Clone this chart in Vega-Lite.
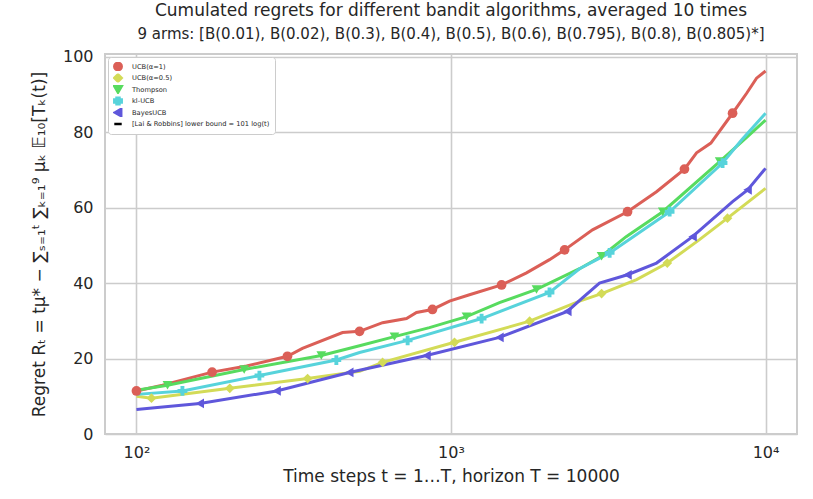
{
  "$schema": "https://vega.github.io/schema/vega-lite/v6.json",
  "width": 692,
  "height": 380,
  "autosize": {"type": "none"},
  "padding": {"left": 105, "top": 54, "right": 16, "bottom": 65},
  "background": "white",
  "config": {
    "font": "DejaVu Sans",
    "view": {"stroke": "#cccccc", "strokeWidth": 2},
    "axis": {
      "domain": false,
      "ticks": false,
      "gridColor": "#cccccc",
      "gridWidth": 1.6,
      "labelFontSize": 16,
      "labelColor": "#262626",
      "titleFontSize": 17,
      "titleFontWeight": "normal",
      "titleColor": "#262626"
    }
  },
  "title": {
    "text": "Cumulated regrets for different bandit algorithms, averaged 10 times",
    "subtitle": "9 arms: [B(0.01), B(0.02), B(0.3), B(0.4), B(0.5), B(0.6), B(0.795), B(0.8), B(0.805)*]",
    "fontSize": 17,
    "subtitleFontSize": 15,
    "fontWeight": "normal",
    "color": "#262626",
    "subtitleColor": "#262626",
    "anchor": "middle",
    "offset": 6,
    "subtitlePadding": 7
  },
  "data": {
    "values": [
      {"a": "UCB(α=1)", "t": 100, "r": 11.4, "m": 1},
      {"a": "UCB(α=1)", "t": 121, "r": 12.9, "m": 0},
      {"a": "UCB(α=1)", "t": 174, "r": 16.4, "m": 1},
      {"a": "UCB(α=1)", "t": 224, "r": 18.0, "m": 0},
      {"a": "UCB(α=1)", "t": 302, "r": 20.6, "m": 1},
      {"a": "UCB(α=1)", "t": 337, "r": 22.7, "m": 0},
      {"a": "UCB(α=1)", "t": 452, "r": 26.9, "m": 0},
      {"a": "UCB(α=1)", "t": 512, "r": 27.2, "m": 1},
      {"a": "UCB(α=1)", "t": 606, "r": 29.5, "m": 0},
      {"a": "UCB(α=1)", "t": 722, "r": 30.6, "m": 0},
      {"a": "UCB(α=1)", "t": 777, "r": 32.2, "m": 0},
      {"a": "UCB(α=1)", "t": 873, "r": 33.0, "m": 1},
      {"a": "UCB(α=1)", "t": 989, "r": 35.2, "m": 0},
      {"a": "UCB(α=1)", "t": 1145, "r": 36.9, "m": 0},
      {"a": "UCB(α=1)", "t": 1448, "r": 39.5, "m": 1},
      {"a": "UCB(α=1)", "t": 1738, "r": 42.7, "m": 0},
      {"a": "UCB(α=1)", "t": 2057, "r": 46.2, "m": 0},
      {"a": "UCB(α=1)", "t": 2297, "r": 48.8, "m": 1},
      {"a": "UCB(α=1)", "t": 2818, "r": 54.1, "m": 0},
      {"a": "UCB(α=1)", "t": 3641, "r": 58.9, "m": 1},
      {"a": "UCB(α=1)", "t": 4501, "r": 64.2, "m": 0},
      {"a": "UCB(α=1)", "t": 5523, "r": 70.2, "m": 1},
      {"a": "UCB(α=1)", "t": 6035, "r": 74.5, "m": 0},
      {"a": "UCB(α=1)", "t": 6700, "r": 77.1, "m": 0},
      {"a": "UCB(α=1)", "t": 7855, "r": 85.0, "m": 1},
      {"a": "UCB(α=1)", "t": 8707, "r": 90.3, "m": 0},
      {"a": "UCB(α=1)", "t": 9362, "r": 94.3, "m": 0},
      {"a": "UCB(α=1)", "t": 10000, "r": 96.2, "m": 0},

      {"a": "UCB(α=0.5)", "t": 100, "r": 10.0, "m": 0},
      {"a": "UCB(α=0.5)", "t": 111.6, "r": 9.5, "m": 1},
      {"a": "UCB(α=0.5)", "t": 198, "r": 12.1, "m": 1},
      {"a": "UCB(α=0.5)", "t": 350, "r": 14.7, "m": 1},
      {"a": "UCB(α=0.5)", "t": 512, "r": 16.6, "m": 0},
      {"a": "UCB(α=0.5)", "t": 606, "r": 19.0, "m": 1},
      {"a": "UCB(α=0.5)", "t": 1026, "r": 24.3, "m": 1},
      {"a": "UCB(α=0.5)", "t": 1778, "r": 29.9, "m": 1},
      {"a": "UCB(α=0.5)", "t": 2563, "r": 35.2, "m": 0},
      {"a": "UCB(α=0.5)", "t": 3011, "r": 37.2, "m": 1},
      {"a": "UCB(α=0.5)", "t": 3890, "r": 40.9, "m": 0},
      {"a": "UCB(α=0.5)", "t": 4871, "r": 45.3, "m": 1},
      {"a": "UCB(α=0.5)", "t": 6166, "r": 51.5, "m": 0},
      {"a": "UCB(α=0.5)", "t": 7568, "r": 57.2, "m": 1},
      {"a": "UCB(α=0.5)", "t": 10000, "r": 65.1, "m": 0},

      {"a": "Thompson", "t": 100, "r": 11.6, "m": 0},
      {"a": "Thompson", "t": 125.5, "r": 12.9, "m": 1},
      {"a": "Thompson", "t": 220, "r": 17.1, "m": 1},
      {"a": "Thompson", "t": 387, "r": 20.8, "m": 1},
      {"a": "Thompson", "t": 512, "r": 23.4, "m": 0},
      {"a": "Thompson", "t": 661, "r": 25.8, "m": 1},
      {"a": "Thompson", "t": 854, "r": 28.2, "m": 0},
      {"a": "Thompson", "t": 1120, "r": 31.1, "m": 1},
      {"a": "Thompson", "t": 1426, "r": 34.8, "m": 0},
      {"a": "Thompson", "t": 1870, "r": 38.3, "m": 1},
      {"a": "Thompson", "t": 2563, "r": 43.8, "m": 0},
      {"a": "Thompson", "t": 3011, "r": 47.1, "m": 1},
      {"a": "Thompson", "t": 3605, "r": 52.3, "m": 0},
      {"a": "Thompson", "t": 4713, "r": 58.9, "m": 1},
      {"a": "Thompson", "t": 7147, "r": 72.2, "m": 1},
      {"a": "Thompson", "t": 8707, "r": 78.6, "m": 0},
      {"a": "Thompson", "t": 10000, "r": 83.2, "m": 0},

      {"a": "kl-UCB", "t": 100, "r": 10.5, "m": 0},
      {"a": "kl-UCB", "t": 140, "r": 11.4, "m": 1},
      {"a": "kl-UCB", "t": 246, "r": 15.5, "m": 1},
      {"a": "kl-UCB", "t": 432, "r": 19.6, "m": 1},
      {"a": "kl-UCB", "t": 512, "r": 21.6, "m": 0},
      {"a": "kl-UCB", "t": 728, "r": 24.8, "m": 1},
      {"a": "kl-UCB", "t": 1251, "r": 30.6, "m": 1},
      {"a": "kl-UCB", "t": 2057, "r": 37.5, "m": 1},
      {"a": "kl-UCB", "t": 2563, "r": 43.8, "m": 0},
      {"a": "kl-UCB", "t": 3194, "r": 48.0, "m": 1},
      {"a": "kl-UCB", "t": 4955, "r": 58.9, "m": 1},
      {"a": "kl-UCB", "t": 7300, "r": 71.8, "m": 1},
      {"a": "kl-UCB", "t": 8389, "r": 77.9, "m": 0},
      {"a": "kl-UCB", "t": 10000, "r": 85.0, "m": 0},

      {"a": "BayesUCB", "t": 100, "r": 6.5, "m": 0},
      {"a": "BayesUCB", "t": 110, "r": 6.8, "m": 0},
      {"a": "BayesUCB", "t": 159, "r": 8.1, "m": 1},
      {"a": "BayesUCB", "t": 279, "r": 11.4, "m": 1},
      {"a": "BayesUCB", "t": 475, "r": 16.3, "m": 1},
      {"a": "BayesUCB", "t": 836, "r": 20.8, "m": 1},
      {"a": "BayesUCB", "t": 1426, "r": 25.6, "m": 1},
      {"a": "BayesUCB", "t": 2344, "r": 32.5, "m": 1},
      {"a": "BayesUCB", "t": 2618, "r": 36.1, "m": 0},
      {"a": "BayesUCB", "t": 2965, "r": 40.0, "m": 0},
      {"a": "BayesUCB", "t": 3641, "r": 42.2, "m": 1},
      {"a": "BayesUCB", "t": 4501, "r": 45.3, "m": 0},
      {"a": "BayesUCB", "t": 5861, "r": 52.3, "m": 1},
      {"a": "BayesUCB", "t": 7855, "r": 61.6, "m": 0},
      {"a": "BayesUCB", "t": 8770, "r": 64.7, "m": 1},
      {"a": "BayesUCB", "t": 10000, "r": 70.4, "m": 0}
    ]
  },
  "encoding": {
    "x": {
      "field": "t",
      "type": "quantitative",
      "scale": {"type": "log", "domain": [79.43, 12589], "nice": false},
      "axis": {
        "values": [100, 1000, 10000],
        "labelExpr": "datum.value == 100 ? '10²' : datum.value == 1000 ? '10³' : '10⁴'",
        "labelPadding": 10,
        "title": "Time steps t = 1…T, horizon T = 10000",
        "titlePadding": 8
      }
    },
    "y": {
      "field": "r",
      "type": "quantitative",
      "scale": {"domain": [0, 100.7], "nice": false},
      "axis": {
        "values": [0, 20, 40, 60, 80, 100],
        "labelPadding": 12,
        "title": "Regret Rₜ = tμ* − ∑ₛ₌₁ᵗ ∑ₖ₌₁⁹ μₖ 𝔼₁₀[Tₖ(t)]",
        "titlePadding": 14
      }
    },
    "color": {
      "field": "a",
      "type": "nominal",
      "scale": {
        "domain": ["UCB(α=1)", "UCB(α=0.5)", "Thompson", "kl-UCB", "BayesUCB", "[Lai & Robbins] lower bound = 101 log(t)"],
        "range": ["#db5f57", "#d3db57", "#57db5f", "#57d3db", "#5f57db", "#000000"]
      },
      "legend": {
        "title": null,
        "orient": "none",
        "legendX": 3,
        "legendY": 3,
        "labelFontSize": 6.7,
        "labelColor": "#262626",
        "symbolSize": 55,
        "clipHeight": 9,
        "rowPadding": 2.5,
        "padding": 5,
        "strokeColor": "#cccccc",
        "fillColor": "white",
        "cornerRadius": 3,
        "labelOffset": 9,
        "encode": {
          "symbols": {
            "update": {
              "shape": {"scale": "shape", "field": "value"},
              "fill": {"scale": "color", "field": "value"},
              "stroke": {"scale": "color", "field": "value"},
              "strokeWidth": {"value": 2.5},
              "size": {"value": 55},
              "opacity": {"value": 1}
            }
          }
        }
      }
    }
  },
  "layer": [
    {
      "mark": {"type": "line", "strokeWidth": 3},
      "encoding": {
        "detail": {"field": "a"}
      }
    },
    {
      "transform": [{"filter": "datum.m == 1"}],
      "mark": {"type": "point", "filled": true, "size": 95, "opacity": 1},
      "encoding": {
        "shape": {
          "field": "a",
          "type": "nominal",
          "scale": {
            "domain": ["UCB(α=1)", "UCB(α=0.5)", "Thompson", "kl-UCB", "BayesUCB", "[Lai & Robbins] lower bound = 101 log(t)"],
            "range": ["circle", "diamond", "triangle-down", "cross", "triangle-left", "stroke"]
          },
          "legend": null
        }
      }
    }
  ]
}
